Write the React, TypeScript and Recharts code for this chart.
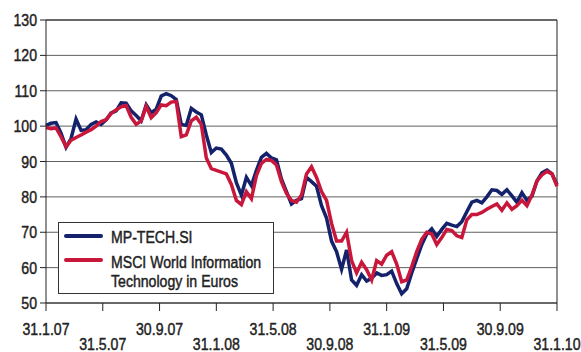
import { LineChart, Line, XAxis, YAxis, CartesianGrid, ReferenceLine } from "recharts";

// dates on the axis, every 4 months
const tickLabels = ["31.1.07", "31.5.07", "30.9.07", "31.1.08", "31.5.08", "30.9.08", "31.1.09", "31.5.09", "30.9.09", "31.1.10"];
const yTicks = [50, 60, 70, 80, 90, 100, 110, 120, 130];

const mpTech = [
  100.2, 100.8, 101, 98, 94, 96.5, 102, 98.8, 99, 100.5, 101.2, 100.5, 101.8, 103.7, 104.3, 106.6, 106.5,
  104.3, 103, 101.5, 106, 103.8, 104.8, 108.5, 109.2, 108.6, 107.5, 100.5, 100.2, 105, 104, 103.2, 97.5,
  92.5, 93.8, 93.5, 91.8, 89.5, 84, 80.5, 85.5, 83.2, 87.5, 91.2, 92.3, 91, 90.5, 85, 81.5, 78, 79, 79.5,
  85.5, 84.3, 83, 77.5, 74, 67.5, 64.5, 59.5, 65, 56.5, 55, 58, 56.2, 57, 58.5, 57.8, 58, 59, 55.5, 52.6,
  54, 58.5, 62.5, 66.5, 69.5, 71, 68.8, 70.8, 72.5, 72, 71.6, 73, 75.8, 78.5, 79, 78.3, 80, 82, 81.8, 80.7,
  82, 80.3, 78.5, 81.2, 79, 80.2, 84.5, 86.8, 87.6, 86.5, 83.4,
];
const msciIT = [
  99.6, 99.3, 99.5, 97, 94.2, 96, 96.8, 97.5, 98.3, 99, 100, 101.3, 101.8, 103.6, 104.6, 105.5, 105.8,
  102.5, 100.5, 101.5, 105.6, 102.4, 103.8, 106, 105.8, 106.8, 107, 97, 97.5, 101.5, 102.5, 100.5, 91,
  88, 87.5, 87, 86.5, 83.5, 79, 77.8, 81.5, 79.5, 86, 89.5, 90.6, 90.3, 89, 84.3, 81, 79, 78.5, 80.5,
  86.5, 88.5, 85.5, 81.5, 79, 72.5, 67.5, 67.5, 70, 62, 58.5, 61.5, 59.4, 56.5, 62, 61, 63.5, 64.5, 61,
  56, 56.5, 60.3, 64.5, 68, 70, 69.5, 66.5, 68.5, 70.8, 70.5, 69, 68.5, 73.5, 75, 75, 75.6, 76.5, 77.3,
  78, 76.2, 78.3, 76.5, 77.5, 79, 77.5, 80.5, 84.5, 86.2, 87.2, 86.5, 83,
];

const MONTHS = 36;
const data = mpTech.map((v, i) => ({
  t: (i * MONTHS) / (mpTech.length - 1),
  mp: v,
  msci: msciIT[i],
}));
const xTicks = tickLabels.map((_, i) => i * 4);

const FONT = "'Liberation Sans', Arial, sans-serif";
const SQUEEZE = 0.83; // the print face is a condensed grotesk
const NAVY = "#14216b";
const RED = "#c9173b";

// narrow text: plain Arial squeezed sideways, a touch heavier
const Narrow = ({ x, y, anchor = "start", children }: any) => (
  <text
    transform={`translate(${x},${y}) scale(${SQUEEZE},1)`}
    textAnchor={anchor}
    fontFamily={FONT}
    fontSize={17}
    fill="#222"
    stroke="#222"
    strokeWidth={0.45}
  >
    {children}
  </text>
);

const DateTick = (props: any) => {
  const { x, y, index } = props;
  const lower = index % 2 === 1;
  return (
    <Narrow x={x} y={y + (lower ? 37 : 22)} anchor="middle">
      {tickLabels[index]}
    </Narrow>
  );
};

const ValueTick = (props: any) => {
  const { x, y, payload } = props;
  return (
    <Narrow x={x} y={y + 6} anchor="end">
      {payload.value}
    </Narrow>
  );
};

const LegendBox = () => (
  <svg width={216} height={72} style={{ position: "absolute", left: 58, top: 222 }}>
    <rect x={0.5} y={0.5} width={215} height={71} fill="#fff" stroke="#333" />
    <line x1={8} x2={43} y1={14} y2={14} stroke={NAVY} strokeWidth={4} strokeLinecap="round" />
    <line x1={8} x2={43} y1={38} y2={38} stroke={RED} strokeWidth={4} strokeLinecap="round" />
    <Narrow x={53} y={21}>MP-TECH.SI</Narrow>
    <Narrow x={53} y={46}>MSCI World Information</Narrow>
    <Narrow x={53} y={65}>Technology in Euros</Narrow>
  </svg>
);

export default function App() {
  return (
    <div style={{ position: "absolute", left: 0, top: 0, width: 581, height: 352, background: "#fff" }}>
      <LineChart width={581} height={352} data={data} margin={{ top: 20, right: 24, bottom: 0, left: 0 }}>
        <CartesianGrid horizontal vertical={false} stroke="#444" strokeOpacity={0.85} />
        <XAxis
          dataKey="t"
          type="number"
          domain={[0, MONTHS]}
          ticks={xTicks}
          interval={0}
          height={49}
          tickSize={8}
          tick={<DateTick />}
          axisLine={{ stroke: "#222" }}
          tickLine={{ stroke: "#222" }}
        />
        <YAxis
          domain={[50, 130]}
          ticks={yTicks}
          interval={0}
          width={46}
          tickSize={6}
          tickMargin={3}
          axisLine={{ stroke: "#222" }}
          tickLine={{ stroke: "#222" }}
          tick={<ValueTick />}
        />
        <ReferenceLine x={MONTHS} stroke="#222" />
        <ReferenceLine y={130} stroke="#222" />
        <Line dataKey="mp" stroke={NAVY} strokeWidth={3.5} dot={false} isAnimationActive={false} />
        <Line dataKey="msci" stroke={RED} strokeWidth={3.5} dot={false} isAnimationActive={false} />
      </LineChart>
      <LegendBox />
    </div>
  );
}
